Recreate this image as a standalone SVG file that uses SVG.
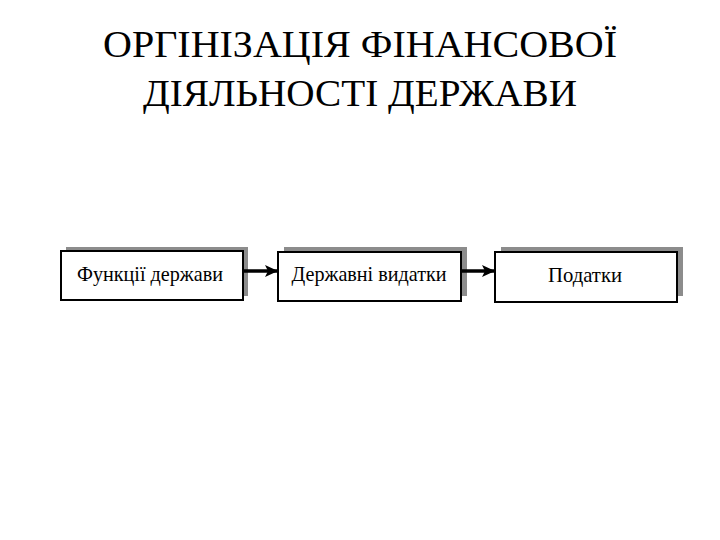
<svg xmlns="http://www.w3.org/2000/svg" width="720" height="540" viewBox="0 0 720 540">
<defs>
<style>
.hd{font-family:"Liberation Serif","Times New Roman",Times,serif;font-size:37px;fill:#000;text-anchor:middle}
.shadow{fill:#8c8c8c}
.box{fill:#fff;stroke:#000;stroke-width:2}
.lbl{font-family:"Liberation Serif","Times New Roman",Times,serif;font-size:22px;fill:#000;text-anchor:middle}
.conn{stroke:#000;stroke-width:3.5;fill:none}
</style>
<marker id="ah" markerWidth="13" markerHeight="12" refX="13" refY="6" orient="auto" markerUnits="userSpaceOnUse">
<path d="M0,0 L13,6 L0,12 L3,6 Z" fill="#000"/>
</marker>
</defs>
<rect width="720" height="540" fill="#fff"/>
<text class="hd" x="360" y="57" font-family="Liberation Serif, serif" textLength="514" lengthAdjust="spacingAndGlyphs">ОРГІНІЗАЦІЯ ФІНАНСОВОЇ</text>
<text class="hd" x="360" y="106" font-family="Liberation Serif, serif" textLength="434" lengthAdjust="spacingAndGlyphs">ДІЯЛЬНОСТІ ДЕРЖАВИ</text>
<g id="n1">
<rect class="shadow" x="66" y="247" width="182" height="49"/>
<rect class="box" x="61" y="251" width="182" height="49"/>
<text class="lbl" x="150" y="281" textLength="146" lengthAdjust="spacingAndGlyphs">Функції держави</text>
</g>
<g id="n2">
<rect class="shadow" x="284" y="247" width="183" height="49"/>
<rect class="box" x="278" y="252" width="183" height="49"/>
<text class="lbl" x="369" y="281" textLength="155" lengthAdjust="spacingAndGlyphs">Державні видатки</text>
</g>
<g id="n3">
<rect class="shadow" x="501" y="247" width="182" height="49"/>
<rect class="box" x="495" y="252" width="182" height="50"/>
<text class="lbl" x="585" y="282" textLength="74" lengthAdjust="spacingAndGlyphs">Податки</text>
</g>
<g id="connectors">
<line class="conn" x1="244" y1="271" x2="278" y2="271" marker-end="url(#ah)"/>
<line class="conn" x1="462" y1="271" x2="495" y2="271" marker-end="url(#ah)"/>
</g>
</svg>
